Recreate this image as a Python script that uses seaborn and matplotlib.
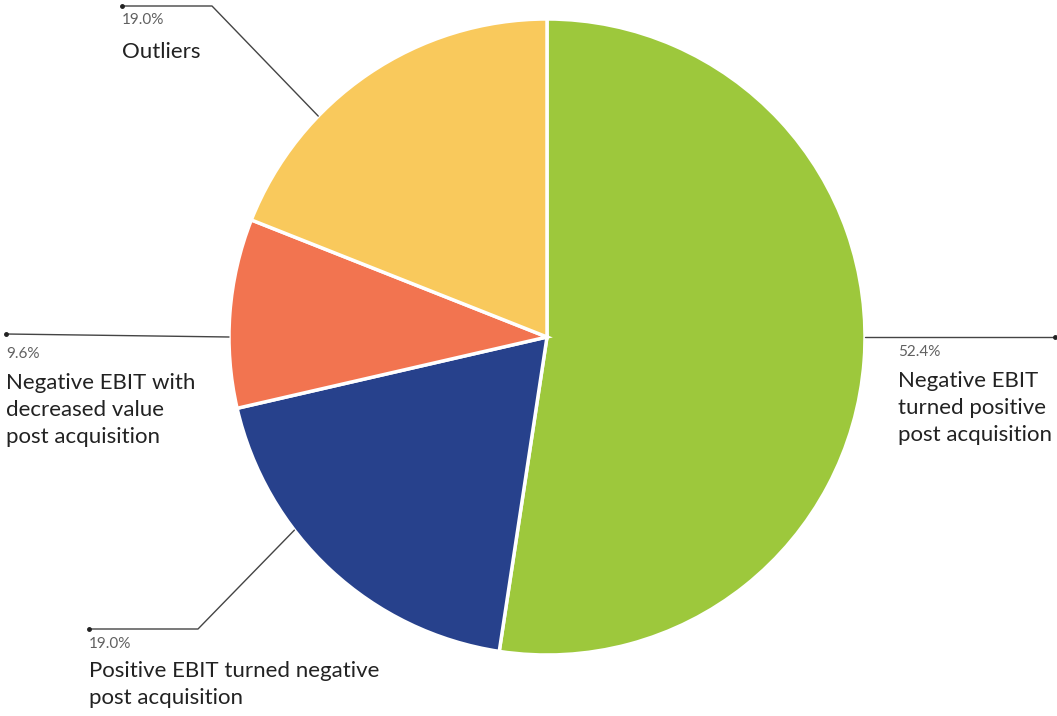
import numpy as np
import matplotlib
matplotlib.use("Agg")
import matplotlib.pyplot as plt
import seaborn as sns

# data
labels = ["Negative EBIT\nturned positive\npost acquisition",
          "Positive EBIT turned negative\npost acquisition",
          "Negative EBIT with\ndecreased value\npost acquisition",
          "Outliers"]
shares = [52.4, 19.0, 9.6, 19.0]
colors = ["#9DC83C", "#27418C", "#F27450", "#F9C95C"]

sns.set_theme(style="white")
plt.rcParams['font.family'] = ['Lato', 'DejaVu Sans']

W, H = 1057, 716
fig = plt.figure(figsize=(W / 100, H / 100), dpi=100)
ax = fig.add_axes([0, 0, 1, 1])

def Y(p):
    return H - p

cx, cy, r = 547, Y(337), 318
ax.pie(shares, colors=colors, startangle=90, counterclock=False,
       center=(cx, cy), radius=r,
       wedgeprops=dict(edgecolor="white", linewidth=2.5))
ax.set_xlim(0, W)
ax.set_ylim(0, H)
ax.set_aspect("equal")
ax.axis("off")

# leader lines: anchor angle on the rim, elbow and end point (pixels)
leaders = [
    (0, None, (1055, 337)),
    (-142.6, (198, 629), (89, 629)),
    (180, None, (6, 334)),
    (136, (212, 6), (122, 6)),
]
# text positions: (x, top of percent, top of label)
texts = [
    (898, 345, 371),
    (89, 637, 661),
    (6, 347, 373),
    (122, 13, 42),
]

for i, (ang, elbow, end) in enumerate(leaders):
    a = np.deg2rad(ang)
    x0, y0 = cx + r * np.cos(a), cy + r * np.sin(a)
    xs, ys = [x0], [y0]
    if elbow is not None:
        xs.append(elbow[0]); ys.append(Y(elbow[1]))
    xs.append(end[0]); ys.append(Y(end[1]))
    ax.plot(xs, ys, color="#444444", lw=1.0, zorder=3)
    ax.plot(end[0], Y(end[1]), "o", color="#222222", ms=2.5, zorder=4)

    tx, tp, tl = texts[i]
    ax.text(tx, Y(tp), f"{shares[i]:.1f}%", fontsize=11, color="#606060",
            ha="left", va="top")
    ax.text(tx, Y(tl), labels[i], fontsize=16, color="#222222",
            ha="left", va="top", linespacing=1.45)

fig.savefig("out.png", dpi=100)
